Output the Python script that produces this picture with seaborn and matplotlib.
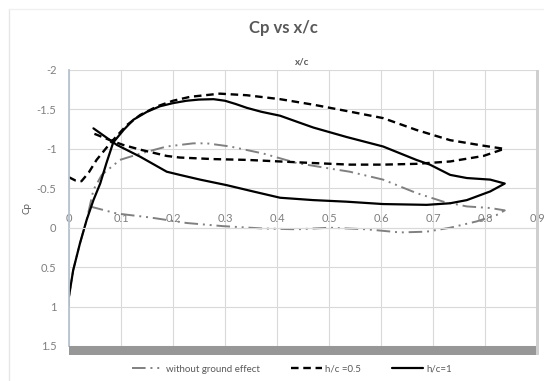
import numpy as np
import matplotlib
matplotlib.use("Agg")
import matplotlib.pyplot as plt
from matplotlib.patches import Rectangle
from matplotlib.lines import Line2D
import pandas as pd
import seaborn as sns

# values (x/c, Cp)
no_ground_x = [0.04, 0.092, 0.156, 0.226, 0.296, 0.374, 0.438, 0.502, 0.572, 0.637, 0.688,
               0.733, 0.784, 0.822, 0.838, 0.81, 0.765, 0.72, 0.668, 0.604, 0.54, 0.502,
               0.438, 0.374, 0.31, 0.265, 0.239, 0.188, 0.137, 0.098, 0.063, 0.047, 0.034,
               0.021, 0.008, 0.0, 0.0]
no_ground_cp = [-0.27, -0.18, -0.13, -0.06, -0.02, 0.01, 0.02, 0.0, 0.02, 0.06, 0.05,
                0.0, -0.08, -0.16, -0.22, -0.25, -0.27, -0.33, -0.44, -0.61, -0.71, -0.75,
                -0.82, -0.94, -1.03, -1.07, -1.07, -1.03, -0.94, -0.86, -0.67, -0.48, -0.1,
                0.2, 0.54, 0.87, 1.0]

hc05_x = [0.0, 0.012, 0.024, 0.038, 0.053, 0.079, 0.111, 0.137, 0.17, 0.2, 0.233, 0.29,
          0.342, 0.406, 0.47, 0.534, 0.604, 0.668, 0.733, 0.797, 0.837, 0.797, 0.733,
          0.668, 0.604, 0.54, 0.47, 0.406, 0.342, 0.278, 0.213, 0.188, 0.137, 0.104,
          0.079, 0.053, 0.045]
hc05_cp = [-0.64, -0.6, -0.59, -0.7, -0.86, -1.07, -1.3, -1.43, -1.54, -1.61, -1.66, -1.7,
           -1.68, -1.63, -1.56, -1.48, -1.39, -1.24, -1.11, -1.04, -1.0, -0.91, -0.84,
           -0.81, -0.8, -0.8, -0.82, -0.84, -0.86, -0.87, -0.89, -0.91, -0.99, -1.05,
           -1.11, -1.18, -1.2]

hc1_x = [0.0, 0.008, 0.021, 0.034, 0.047, 0.06, 0.072, 0.085, 0.105, 0.124, 0.15, 0.175,
         0.2, 0.226, 0.25, 0.278, 0.3, 0.32, 0.342, 0.37, 0.406, 0.44, 0.47, 0.534, 0.604,
         0.668, 0.694, 0.733, 0.765, 0.81, 0.838, 0.81, 0.765, 0.733, 0.688, 0.604, 0.534,
         0.47, 0.406, 0.354, 0.303, 0.252, 0.213, 0.188, 0.137, 0.092, 0.047]
hc1_cp = [0.87, 0.54, 0.2, -0.1, -0.35, -0.56, -0.82, -1.08, -1.24, -1.37, -1.47, -1.54,
          -1.58, -1.61, -1.625, -1.63, -1.61, -1.57, -1.52, -1.47, -1.42, -1.34, -1.27,
          -1.15, -1.03, -0.86, -0.8, -0.67, -0.63, -0.61, -0.56, -0.46, -0.35, -0.31, -0.29,
          -0.3, -0.33, -0.35, -0.38, -0.46, -0.54, -0.61, -0.67, -0.71, -0.9, -1.05, -1.26]

x_ticks = [0, 0.1, 0.2, 0.3, 0.4, 0.5, 0.6, 0.7, 0.8, 0.9]
x_tick_labels = ["0", "0.1", "0.2", "0.3", "0.4", "0.5", "0.6", "0.7", "0.8", "0.9"]
y_ticks = [-2, -1.5, -1, -0.5, 0, 0.5, 1, 1.5]
y_tick_labels = ["-2", "-1.5", "-1", "-0.5", "0", "0.5", "1", "1.5"]

sns.set_style("white")
plt.rcParams["font.family"] = ["Lato", "DejaVu Sans"]

W, H = 544, 381
fig, ax = plt.subplots(figsize=(W / 100, H / 100), dpi=100)
fig.subplots_adjust(left=69 / W, right=537 / W, top=1 - 70 / H, bottom=1 - 346 / H)

dd = (0, (7, 2.5, 1, 2.5, 1, 2.5))
series = [
    (no_ground_x, no_ground_cp, "without ground effect", "#808080", dd, 1.4),
    (hc05_x, hc05_cp, "h/c =0.5", "black", (0, (3.2, 2)), 1.7),
    (hc1_x, hc1_cp, "h/c=1", "black", "-", 1.6),
]
handles = []
for xs, ys, name, col, ls, lw in series:
    df = pd.DataFrame({"x/c": xs, "Cp": ys})
    sns.lineplot(data=df, x="x/c", y="Cp", sort=False, estimator=None, ax=ax,
                 color=col, linestyle=ls, linewidth=lw)
    handles.append(Line2D([], [], color=col, linestyle=ls, linewidth=lw, label=name))

ax.set_xlim(0, 0.9)
ax.set_ylim(1.5, -2)
ax.set_xticks(x_ticks)
ax.set_xticklabels(x_tick_labels)
ax.set_yticks(y_ticks)
ax.set_yticklabels(y_tick_labels)
ax.grid(True, color="#d9d9d9", linewidth=0.8)
ax.set_axisbelow(True)

for s in ["right", "bottom"]:
    ax.spines[s].set_visible(False)
ax.spines["left"].set_color("#b7c2cf")
ax.spines["left"].set_linewidth(1.3)
ax.spines["top"].set_position(("data", 0))
ax.spines["top"].set_color("#d9d9d9")
ax.spines["top"].set_linewidth(0.8)
ax.xaxis.set_ticks_position("top")
ax.tick_params(axis="x", length=0, pad=3, labelsize=8, labelcolor="#7f7f7f")
ax.tick_params(axis="y", length=0, pad=9, labelsize=8, labelcolor="#7f7f7f")
ax.set_xlabel("")
ax.set_ylabel("Cp", fontsize=7, color="#595959", labelpad=4)

fig.text(283 / W, 1 - 28 / H, "Cp vs x/c", ha="center", va="center",
         fontsize=12, fontweight="bold", color="#595959")
fig.text(302 / W, 1 - 62 / H, "x/c", ha="center", va="center",
         fontsize=7, fontweight="bold", color="#595959")

# plot-area shadow and chart border
fig.add_artist(Rectangle((69 / W, 1 - 355 / H), 470 / W, 9 / H,
                         transform=fig.transFigure, color="#979797", lw=0))
fig.add_artist(Rectangle((536 / W, 1 - 355 / H), 3 / W, 285 / H,
                         transform=fig.transFigure, color="#cfcfcf", lw=0))
fig.add_artist(Line2D([9 / W, 9 / W], [0, 1 - 9 / H], transform=fig.transFigure,
                      color="#e6e6e6", lw=1))
fig.add_artist(Line2D([9 / W, 1], [1 - 9 / H, 1 - 9 / H], transform=fig.transFigure,
                      color="#f0f0f0", lw=1))

fig.legend(handles=handles, loc="center", bbox_to_anchor=(292 / W, 1 - 369 / H),
           ncol=3, frameon=False, fontsize=7, handlelength=3.2, columnspacing=3.2,
           labelcolor="#595959", handletextpad=0.3)

fig.savefig("out.png", dpi=100)
